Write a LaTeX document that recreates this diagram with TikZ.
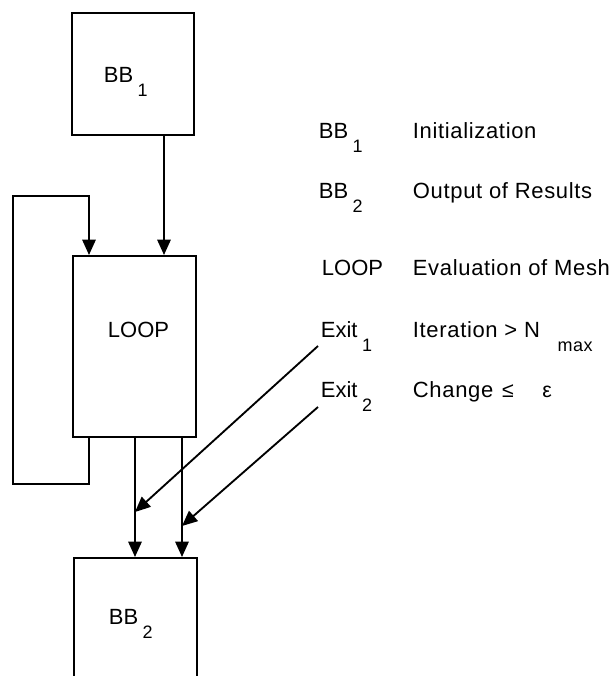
\documentclass[tikz,border=0pt]{standalone}
\usepackage{fontspec}
\setmainfont{Liberation Sans}
\usetikzlibrary{arrows.meta}
\newcommand{\lowsub}[1]{\hspace{0.2em}\raisebox{-10.5pt}{\fontsize{13.5}{14}\selectfont #1}}
\tikzset{blk/.style={draw,line width=1.5pt,inner sep=0pt},
	txt/.style={anchor=base west,inner sep=0pt,font=\fontsize{16.5}{18}\selectfont},
	dsc/.style={txt,font=\fontsize{16.5}{18}\selectfont\addfontfeature{LetterSpace=3}}}

\begin{document}
\begin{tikzpicture}[x=0.75pt,y=-0.75pt,line width=1.4pt,>={Triangle[width=10pt,length=11.5pt]}]
		\clip (0,0) rectangle (611,676);
		\node[blk,minimum width=91.5pt,minimum height=91.5pt] (bb1) at (133,74) {};
		\node[blk,minimum width=92.25pt,minimum height=135.75pt] (loop) at (134.5,346.5) {};
		\node[blk,minimum width=92.25pt,minimum height=106.5pt] (bb2) at (135.5,629) {};
			\node[txt] (bb1t) at (103,82) {BB\lowsub{1}};
			\node[txt] (loopt) at (107,337) {LOOP};
			\node[txt] (bb2t) at (108,624) {BB\lowsub{2}};
		\coordinate (colfb) at (89,0);
		\coordinate (colin) at (164,0);
		\coordinate (colxa) at (135,0);
		\coordinate (colxb) at (182,0);
		\coordinate (fbbot) at (13,484);
		\coordinate (fbtop) at (13,196);
			\draw[->] (bb1.south -| colin) -- (loop.north -| colin);
			\draw[->] (loop.south -| colfb) |- (fbbot) -- (fbtop) -| (loop.north -| colfb);
			\draw[->] (loop.south -| colxa) -- (bb2.north -| colxa);
			\draw[->] (loop.south -| colxb) -- (bb2.north -| colxb);
		\node[txt] (kbb1) at (318,138) {BB\lowsub{1}};
		\node[txt] (kbb2) at (318,198) {BB\lowsub{2}};
		\node[txt] (kloop) at (321,275) {LOOP};
		\node[txt] (kexa) at (320,337) {Exit\lowsub{1}};
		\node[txt] (kexb) at (320,397) {Exit\lowsub{2}};
			\node[dsc] (dbb1) at (412,138) {Initialization};
			\node[dsc] (dbb2) at (412,198) {Output of Results};
			\node[dsc] (dloop) at (412,275) {Evaluation of Mesh};
			\node[dsc] (dexa) at (412,337) {Iteration > N\hspace{0.6em}\lowsub{max}};
			\node[dsc] (dexb) at (412,397) {Change\hspace{0.4em}{\fontsize{16}{16}\selectfont ≤}\hspace{1.3em}{\fontsize{16}{16}\selectfont ε}};
		\coordinate (exa) at (318,346);
		\coordinate (exb) at (318,407);
		\coordinate (tipa) at (135,512);
		\coordinate (tipb) at (182,526);
			\draw[->] (exa) -- (tipa);
			\draw[->] (exb) -- (tipb);
	\end{tikzpicture}
\end{document}
